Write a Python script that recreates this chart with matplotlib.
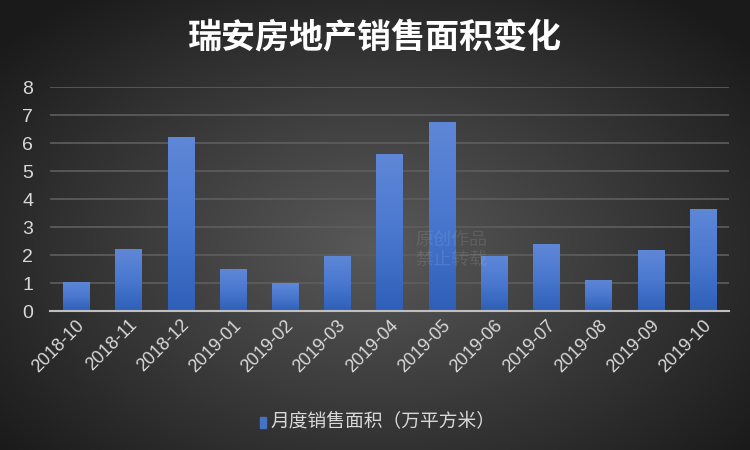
import numpy as np
import matplotlib.pyplot as plt
from matplotlib.colors import LinearSegmentedColormap

plt.rcParams['font.family'] = ['Noto Sans CJK SC', 'DejaVu Sans']

months = ['2018-10', '2018-11', '2018-12', '2019-01', '2019-02', '2019-03', '2019-04',
          '2019-05', '2019-06', '2019-07', '2019-08', '2019-09', '2019-10']
area = [1.05, 2.2, 6.2, 1.5, 0.99, 1.98, 5.6, 6.76, 1.95, 2.38, 1.12, 2.17, 3.65]
yticks = [0, 1, 2, 3, 4, 5, 6, 7, 8]
title = '瑞安房地产销售面积变化'
series_name = '月度销售面积（万平方米）'

fig = plt.figure(figsize=(7.5, 4.5), dpi=100)

# radial gradient background
bg = fig.add_axes([0, 0, 1, 1], zorder=-10)
gx, gy = np.meshgrid(np.linspace(-1, 1, 400), np.linspace(-1, 1, 240))
r = np.sqrt((gx / 1.0) ** 2 + ((gy + 0.1) / 1.1) ** 2)
bg_cmap = LinearSegmentedColormap.from_list('bg', ['#595959', '#3a3a3a', '#1a1a1a'])
bg.imshow(np.clip(r / 1.3, 0, 1), cmap=bg_cmap, vmin=0, vmax=1, aspect='auto',
          extent=[0, 1, 0, 1], origin='lower')
bg.axis('off')

ax = fig.add_axes([50 / 750, 1 - 311 / 450, 679 / 750, 224 / 450])
ax.patch.set_alpha(0)
x = np.arange(len(months))
bars = ax.bar(x, area, width=0.5, color='#4472c4', zorder=3)

# vertical gradient on each bar
bar_cmap = LinearSegmentedColormap.from_list('bar', ['#2f5fb8', '#4a78cf', '#5f87d7'])
grad = np.linspace(0, 1, 100).reshape(-1, 1)
for b in bars:
    x0, w, h = b.get_x(), b.get_width(), b.get_height()
    im = ax.imshow(grad, cmap=bar_cmap, aspect='auto', origin='lower',
                   extent=[x0, x0 + w, 0, h], zorder=4)
    im.set_clip_path(b)

ax.set_xlim(-0.5, len(months) - 0.5)
ax.set_ylim(0, 8)
ax.set_yticks(yticks)
ax.grid(True, axis='y', color='#5e5e5e', linewidth=1.2, zorder=0)
ax.set_axisbelow(True)
for s in ['top', 'right', 'left']:
    ax.spines[s].set_visible(False)
ax.spines['bottom'].set_color('#bfbfbf')
ax.spines['bottom'].set_linewidth(1.5)
ax.spines['bottom'].set_zorder(5)
ax.tick_params(length=0, colors='#d9d9d9')
ax.tick_params(axis='y', pad=12, labelsize=14)
ax.tick_params(axis='x', pad=4, labelsize=13)
ax.set_xticks(x)
ax.set_xticklabels(months, rotation=45, ha='right', rotation_mode='anchor',
                   family=['Liberation Sans', 'DejaVu Sans'])
for lab in ax.get_yticklabels():
    lab.set_family(['Liberation Sans', 'DejaVu Sans'])

# watermark
fig.text(415 / 750, 1 - 250 / 450, '原创作品\n禁止转载', color='#ffffff', alpha=0.1,
         fontsize=13, va='center', ha='left', linespacing=1.1)

fig.text(0.5, 1 - 38 / 450, title, color='white', fontsize=24.5, fontweight='bold',
         ha='center', va='center')

# legend
fig.patches.append(plt.Rectangle((260 / 750, 1 - 428 / 450), 6 / 750, 11 / 450,
                                 transform=fig.transFigure, color='#4472c4', figure=fig))
fig.text(270 / 750, 1 - 422 / 450, series_name, color='#d9d9d9', fontsize=13.5,
         ha='left', va='center')

fig.savefig('out.png', dpi=100)
